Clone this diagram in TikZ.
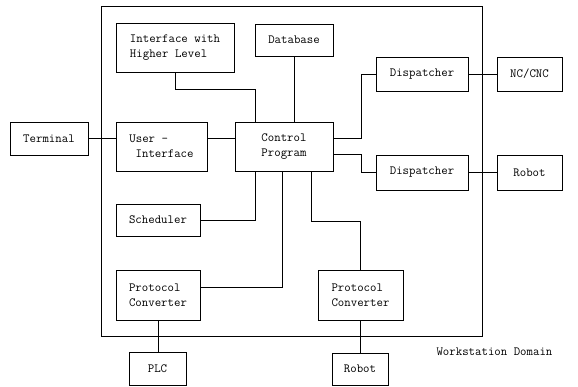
\documentclass[tikz,border=0pt]{standalone}
\usepackage{tikz}
\usetikzlibrary{positioning, calc}

\begin{document}
\begin{tikzpicture}[x=1pt, y=1pt,
    blk/.style={draw, line width=0.7pt, inner sep=0pt, align=left,
      font=\fontsize{12.5}{15}\selectfont\ttfamily},
    lnk/.style={line width=0.7pt}]
  \useasboundingbox (0,0) rectangle (578,387);
  % domain frame
  \node[draw, line width=0.7pt, minimum width=381, minimum height=330] (dom) at (291.5,216) {};
  \node[anchor=west, font=\fontsize{12.5}{15}\selectfont\ttfamily] (domlbl) at (433,35) {Workstation Domain};
  % inside
  \node[blk, minimum width=118, minimum height=49] (ihl) at (175,339.5) {Interface with\\Higher Level};
  \node[blk, minimum width=78, minimum height=32] (db) at (294,347) {Database};
  \node[blk, minimum width=91, minimum height=49] (ui) at (161.5,240.5) {User -\\\hspace{0.5em}Interface};
  \node[blk, minimum width=98, minimum height=49] (ctrl) at (284,240.5) {Control\\Program};
  \node[blk, minimum width=92, minimum height=34] (disp1) at (422,313) {Dispatcher};
  \node[blk, minimum width=92, minimum height=35] (disp2) at (422,214.5) {Dispatcher};
  \node[blk, minimum width=84, minimum height=32] (sched) at (158,167) {Scheduler};
  \node[blk, minimum width=84, minimum height=50] (pcl) at (158,92) {Protocol\\Converter};
  \node[blk, minimum width=85, minimum height=50] (pcr) at (360.5,92) {Protocol\\Converter};
  % outside
  \node[blk, minimum width=78, minimum height=33] (term) at (49,248.5) {Terminal};
  \node[blk, minimum width=65, minimum height=34] (nc) at (529.5,313) {NC/CNC};
  \node[blk, minimum width=65, minimum height=35] (robr) at (529.5,214.5) {Robot};
  \node[blk, minimum width=57, minimum height=33] (plc) at (157.5,18.5) {PLC};
  \node[blk, minimum width=56, minimum height=32] (robb) at (360,18) {Robot};
  % connectors
  \draw[lnk] (term.east) -- (term.east -| ui.west);
  \draw[lnk] (ui.east |- term.east) -- (ctrl.west |- term.east);
  \draw[lnk] (ihl.south) -- ++(0,-17) -| ([xshift=21]ctrl.north west);
  \draw[lnk] (db.south) -- (db.south |- ctrl.north);
  \draw[lnk] ([yshift=8]ctrl.east) -- ++(28,0) |- (disp1.west);
  \draw[lnk] ([yshift=-8]ctrl.east) -- ++(28,0) |- (disp2.west);
  \draw[lnk] (disp1.east) -- (nc.west);
  \draw[lnk] (disp2.east) -- (robr.west);
  \draw[lnk] ([xshift=21]ctrl.south west) |- (sched.east);
  \draw[lnk] ([xshift=48]ctrl.south west) |- ([yshift=8]pcl.east);
  \draw[lnk] ([xshift=77]ctrl.south west) -- ++(0,-50) -| (pcr.north);
  \draw[lnk] (pcl.south) -- (pcl.south |- plc.north);
  \draw[lnk] (pcr.south) -- (pcr.south |- robb.north);
\end{tikzpicture}
\end{document}
